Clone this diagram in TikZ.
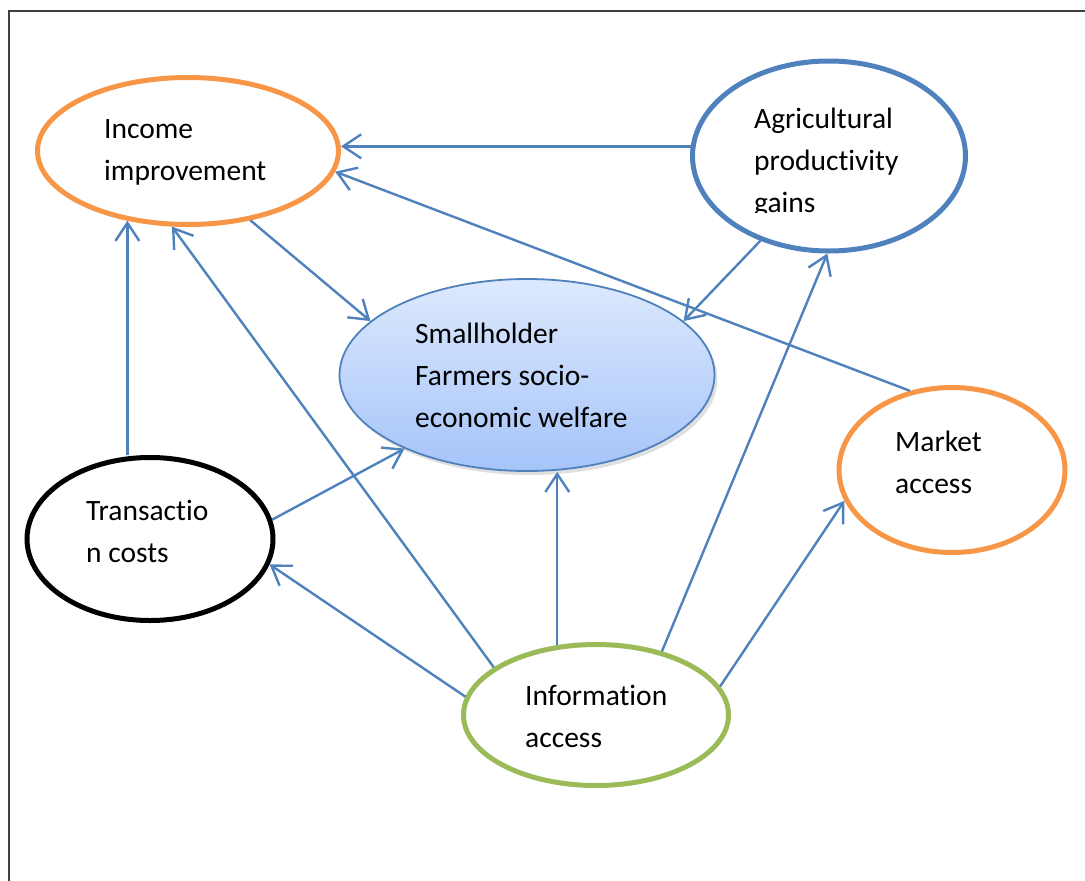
\documentclass[tikz,border=0pt]{standalone}
\usepackage{fontspec}
\setmainfont{Carlito}[Ligatures=NoCommon]
\usetikzlibrary{arrows.meta,shapes.geometric,shadows}
\definecolor{accOrange}{HTML}{F79646}
\definecolor{accBlue}{HTML}{4F81BD}
\definecolor{accGreen}{HTML}{9BBB59}
\definecolor{frameGray}{HTML}{404040}
\definecolor{welfareTop}{RGB}{221,233,253}
\definecolor{welfareBottom}{RGB}{165,196,249}
\begin{document}
\begin{tikzpicture}[x=1pt,y=-1pt,
  bubble/.style={ellipse, inner sep=0pt, line width=5pt},
  txt/.style={align=left, inner sep=0pt, anchor=base west,
    font=\fontsize{29.5}{42}\selectfont},
  link/.style={draw=accBlue, line width=2.4pt,
    -{Straight Barb[length=18pt,width=24pt,line width=2.4pt]}}]
\useasboundingbox (0,0) rectangle (1085,881);

% page frame (left and top edges)
\draw[frameGray, line width=2pt] (9,881) -- (9,11) -- (1085,11);

% central outcome
\node[ellipse, inner sep=0pt, draw=accBlue, line width=1.8pt,
  top color=welfareTop, bottom color=welfareBottom,
  drop shadow={opacity=0.25, shadow xshift=3pt, shadow yshift=-4pt},
  minimum width=375pt, minimum height=192pt] (small) at (527,375) {};

% surrounding factors
\node[bubble, draw=accOrange, minimum width=301pt, minimum height=147pt] (income) at (188,151) {};
\node[bubble, draw=accBlue, minimum width=273pt, minimum height=190pt] (agri) at (829,156) {};
\node[bubble, draw=accOrange, minimum width=226pt, minimum height=165pt] (market) at (952,470) {};
\node[bubble, draw=black, minimum width=246pt, minimum height=163pt] (trans) at (150,539) {};
\node[bubble, draw=accGreen, minimum width=265pt, minimum height=141pt] (info) at (596,715) {};

% labels (base anchor sits on the last line)
\node[txt] (incomeT) at (104,180) {Income\\improvement};
\begin{scope}
  \clip (700,70) rectangle (965,212);
  \node[txt] (agriT) at (754,212) {Agricultural\\productivity\\gains};
\end{scope}
\node[txt] (smallT) at (415,427) {Smallholder\\Farmers socio-\\economic welfare};
\node[txt] (marketT) at (895,493) {Market\\access};
\node[txt] (transT) at (86,562) {Transactio\\n costs};
\node[txt] (infoT) at (525,747) {Information\\access};

% connectors
\draw[link] (agri.176) -- (income.east |- agri.176);
\draw[link] (market.118) -- (income.-8);
\draw[link] (income.-48) -- (small.161);
\draw[link] (agri.-129) -- (small.19);
\draw[link] (trans.north -| income.-131) -- (income.-131);
\draw[link] (info.155) -- (income.-102);
\draw[link] (trans.9) -- (small.-149);
\draw[link] (info.172) -- (trans.-12);
\draw[link] (info.119) -- (info.119 |- small.south);
\draw[link] (info.44) -- (agri.-91);
\draw[link] (info.13) -- (market.-164);
\end{tikzpicture}
\end{document}
